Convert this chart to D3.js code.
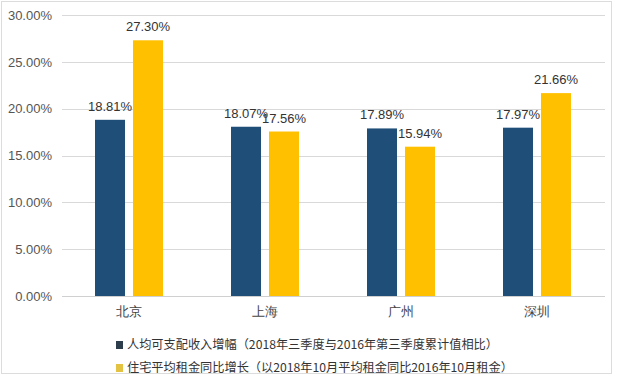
<!DOCTYPE html>
<html>
<head>
<meta charset="utf-8">
<script src="https://cdn.jsdelivr.net/npm/d3@7/dist/d3.min.js"></script>
<style>
  body { margin: 0; background: #fff; }
  svg { display: block; font-family: "Noto Sans CJK SC", "Liberation Sans", Arial, sans-serif; }
</style>
</head>
<body>
<div id="chart"></div>
<script>
// chart data
var cities = ["北京", "上海", "广州", "深圳"];
var incomeGrowth = [18.81, 18.07, 17.89, 17.97];
var rentGrowth = [27.30, 17.56, 15.94, 21.66];
var seriesNames = [
  "人均可支配收入增幅（2018年三季度与2016年第三季度累计值相比）",
  "住宅平均租金同比增长（以2018年10月平均租金同比2016年10月租金）"
];
var yTicks = [0, 5, 10, 15, 20, 25, 30];

var colors = ["#1f4e79", "#ffc000"];
var legendColors = ["#2e3d4b", "#e3c341"];

var width = 620, height = 377;
var margin = { top: 15, right: 15, bottom: 81, left: 61 };

var svg = d3.select("#chart").append("svg")
  .attr("width", width)
  .attr("height", height);

// outer frame
svg.append("rect")
  .attr("x", 1.5).attr("y", 1.5)
  .attr("width", 610).attr("height", 372)
  .attr("fill", "none")
  .attr("stroke", "#dcdcdc");

var x0 = d3.scaleBand()
  .domain(cities)
  .range([margin.left, width - margin.right])
  .paddingInner(0).paddingOuter(0);

var x1 = d3.scaleBand()
  .domain([0, 1])
  .range([x0.bandwidth() / 2 - 34, x0.bandwidth() / 2 + 34])
  .paddingInner(0.21);

var y = d3.scaleLinear()
  .domain([0, 30])
  .range([height - margin.bottom, margin.top]);

// gridlines
svg.append("g")
  .selectAll("line")
  .data(yTicks)
  .enter().append("line")
  .attr("x1", margin.left + 1)
  .attr("x2", width - margin.right)
  .attr("y1", function (d) { return Math.round(y(d)) + 0.5; })
  .attr("y2", function (d) { return Math.round(y(d)) + 0.5; })
  .attr("stroke", "#d9d9d9")
  .attr("stroke-width", 1);

// y axis labels
var yAxis = d3.axisLeft(y)
  .tickValues(yTicks)
  .tickSize(0)
  .tickPadding(9)
  .tickFormat(function (d) { return d.toFixed(2) + "%"; });

svg.append("g")
  .attr("class", "y-axis")
  .attr("transform", "translate(" + margin.left + ",0)")
  .call(yAxis)
  .call(function (g) { g.select(".domain").remove(); })
  .selectAll("text")
  .attr("font-family", "Liberation Sans, Arial, sans-serif")
  .attr("font-size", 13)
  .attr("fill", "#555");

// x axis labels
var xAxis = d3.axisBottom(x0).tickSize(0).tickPadding(11);
svg.append("g")
  .attr("class", "x-axis")
  .attr("transform", "translate(0," + (height - margin.bottom) + ")")
  .call(xAxis)
  .call(function (g) { g.select(".domain").remove(); })
  .selectAll("text")
  .attr("font-size", 13)
  .attr("fill", "#444");

// bars
var rows = cities.map(function (c, i) {
  return { city: c, values: [incomeGrowth[i], rentGrowth[i]] };
});

var groups = svg.selectAll(".group")
  .data(rows)
  .enter().append("g")
  .attr("class", "group")
  .attr("transform", function (d) { return "translate(" + x0(d.city) + ",0)"; });

groups.selectAll("rect")
  .data(function (d) { return d.values.map(function (v, k) { return { k: k, v: v }; }); })
  .enter().append("rect")
  .attr("x", function (d) { return x1(d.k); })
  .attr("y", function (d) { return y(d.v); })
  .attr("width", x1.bandwidth())
  .attr("height", function (d) { return y(0) - y(d.v); })
  .attr("fill", function (d) { return colors[d.k]; });

groups.selectAll(".lbl")
  .data(function (d) { return d.values.map(function (v, k) { return { k: k, v: v }; }); })
  .enter().append("text")
  .attr("class", "lbl")
  .attr("x", function (d) { return x1(d.k) + x1.bandwidth() / 2; })
  .attr("y", function (d) { return y(d.v) - 9; })
  .attr("text-anchor", "middle")
  .attr("font-family", "Liberation Sans, Arial, sans-serif")
  .attr("font-size", 13)
  .attr("fill", "#333")
  .text(function (d) { return d.v.toFixed(2) + "%"; });

// baseline
svg.append("line")
  .attr("x1", margin.left + 1)
  .attr("x2", width - margin.right)
  .attr("y1", Math.round(y(0)) + 0.5)
  .attr("y2", Math.round(y(0)) + 0.5)
  .attr("stroke", "#d0d0d0");

// legend
var legend = svg.selectAll(".legend")
  .data(seriesNames)
  .enter().append("g")
  .attr("class", "legend")
  .attr("transform", function (d, i) { return "translate(116," + (345 + i * 23) + ")"; });

legend.append("rect")
  .attr("x", 0).attr("y", -4)
  .attr("width", 7).attr("height", 8)
  .attr("fill", function (d, i) { return legendColors[i]; });

legend.append("text")
  .attr("x", 11)
  .attr("dy", "0.35em")
  .attr("font-size", 12.2)
  .attr("fill", "#333")
  .text(function (d) { return d; });
</script>
</body>
</html>
